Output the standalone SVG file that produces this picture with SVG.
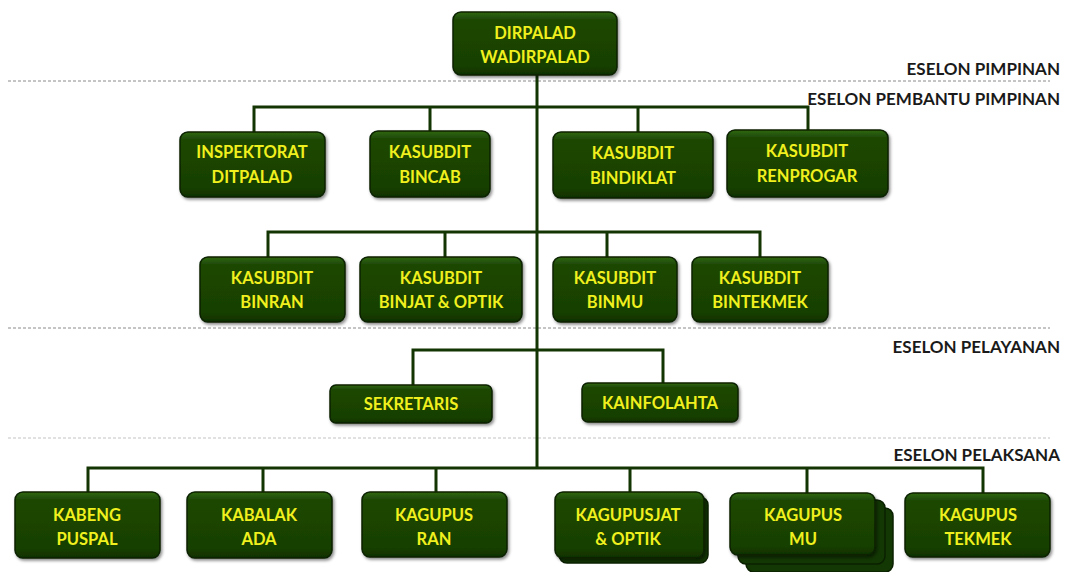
<svg xmlns="http://www.w3.org/2000/svg" width="1066" height="572" viewBox="0 0 1066 572">
<style>
.box{fill:url(#g);stroke:#0a2001;stroke-width:1.5;filter:url(#sh)}
.back{fill:#133803;stroke:#0a2001;stroke-width:1.5}
.t{font-family:Lato,"Open Sans",sans-serif;font-weight:bold;font-size:16.5px;fill:#f0f01e;text-anchor:middle}
.e{font-family:Lato,"Open Sans",sans-serif;font-weight:bold;font-size:17px;fill:#1a1a1a;text-anchor:end}
.c{fill:none;stroke:#133503;stroke-width:3}
.d{stroke:#8a8a8a;stroke-width:1;stroke-dasharray:3 2}
</style>
<defs>
<linearGradient id="g" x1="0" y1="0" x2="0" y2="1">
<stop offset="0" stop-color="#306812"/>
<stop offset="0.12" stop-color="#1d4705"/>
<stop offset="0.85" stop-color="#184004"/>
<stop offset="1" stop-color="#0f3002"/>
</linearGradient>
<filter id="sh" x="-10%" y="-10%" width="125%" height="135%">
<feDropShadow dx="1.5" dy="2" stdDeviation="1.5" flood-color="#000" flood-opacity="0.45"/>
</filter>
</defs>
<rect width="1066" height="572" fill="#fff"/>
<g id="eselon-lines">
<line class="d" x1="8" y1="81" x2="1050" y2="81"/>
<line class="d" x1="8" y1="328" x2="1050" y2="328"/>
<line class="d" x1="8" y1="438" x2="1050" y2="438" stroke-opacity="0.5"/>
<text class="e" x="1060" y="75">ESELON PIMPINAN</text>
<text class="e" x="1060" y="105">ESELON PEMBANTU PIMPINAN</text>
<text class="e" x="1060" y="353">ESELON PELAYANAN</text>
<text class="e" x="1060" y="461">ESELON PELAKSANA</text>
</g>
<g id="connectors">
<path class="c" d="M537 75V468"/>
<path class="c" d="M254 132V107H808V132M430 107V132M638 107V132"/>
<path class="c" d="M268 257V232H760V257M445 232V257M607 232V257"/>
<path class="c" d="M413 385V350H663V383"/>
<path class="c" d="M88 492V468H983V493M263 468V492M436 468V492M630 468V492M807 468V493"/>
</g>
<g id="n-dirpalad"><rect class="box" x="453" y="12" width="164" height="63" rx="8"/><text class="t" x="535" y="39">DIRPALAD</text><text class="t" x="535" y="63">WADIRPALAD</text></g>
<g id="n-inspektorat"><rect class="box" x="180" y="132" width="145" height="65" rx="8"/><text class="t" x="252" y="158">INSPEKTORAT</text><text class="t" x="252" y="183">DITPALAD</text></g>
<g id="n-bincab"><rect class="box" x="370" y="131" width="120" height="66" rx="8"/><text class="t" x="430" y="158">KASUBDIT</text><text class="t" x="430" y="183">BINCAB</text></g>
<g id="n-bindiklat"><rect class="box" x="553" y="132" width="160" height="66" rx="8"/><text class="t" x="633" y="159">KASUBDIT</text><text class="t" x="633" y="184">BINDIKLAT</text></g>
<g id="n-renprogar"><rect class="box" x="727" y="130" width="161" height="67" rx="8"/><text class="t" x="807" y="157">KASUBDIT</text><text class="t" x="807" y="182">RENPROGAR</text></g>
<g id="n-binran"><rect class="box" x="200" y="257" width="145" height="65" rx="8"/><text class="t" x="272" y="284">KASUBDIT</text><text class="t" x="272" y="308">BINRAN</text></g>
<g id="n-binjat"><rect class="box" x="360" y="257" width="162" height="65" rx="8"/><text class="t" x="441" y="284">KASUBDIT</text><text class="t" x="441" y="308">BINJAT &amp; OPTIK</text></g>
<g id="n-binmu"><rect class="box" x="553" y="257" width="124" height="65" rx="8"/><text class="t" x="615" y="284">KASUBDIT</text><text class="t" x="615" y="308">BINMU</text></g>
<g id="n-bintekmek"><rect class="box" x="692" y="257" width="136" height="65" rx="8"/><text class="t" x="760" y="284">KASUBDIT</text><text class="t" x="760" y="308">BINTEKMEK</text></g>
<g id="n-sekretaris"><rect class="box" x="330" y="385" width="162" height="38" rx="6"/><text class="t" x="411" y="410">SEKRETARIS</text></g>
<g id="n-kainfolahta"><rect class="box" x="582" y="383" width="156" height="39" rx="6"/><text class="t" x="660" y="409">KAINFOLAHTA</text></g>
<g id="n-kabeng"><rect class="box" x="15" y="492" width="145" height="66" rx="8"/><text class="t" x="87" y="521">KABENG</text><text class="t" x="87" y="545">PUSPAL</text></g>
<g id="n-kabalak"><rect class="box" x="187" y="492" width="145" height="66" rx="8"/><text class="t" x="259" y="521">KABALAK</text><text class="t" x="259" y="545">ADA</text></g>
<g id="n-kagupus-ran"><rect class="box" x="362" y="492" width="145" height="65" rx="8"/><text class="t" x="434" y="521">KAGUPUS</text><text class="t" x="434" y="545">RAN</text></g>
<g id="n-kagupusjat"><rect class="back" x="559" y="497" width="149" height="66" rx="8"/><rect class="box" x="555" y="492" width="149" height="66" rx="8"/><text class="t" x="628" y="521">KAGUPUSJAT</text><text class="t" x="628" y="545">&amp; OPTIK</text></g>
<g id="n-kagupus-mu"><rect class="back" x="746" y="508" width="147" height="64" rx="8"/><rect class="back" x="738" y="500" width="147" height="64" rx="8"/><rect class="box" x="730" y="493" width="145" height="62" rx="8"/><text class="t" x="803" y="521">KAGUPUS</text><text class="t" x="803" y="545">MU</text></g>
<g id="n-kagupus-tekmek"><rect class="box" x="905" y="493" width="145" height="64" rx="8"/><text class="t" x="978" y="521">KAGUPUS</text><text class="t" x="978" y="545">TEKMEK</text></g>
</svg>
